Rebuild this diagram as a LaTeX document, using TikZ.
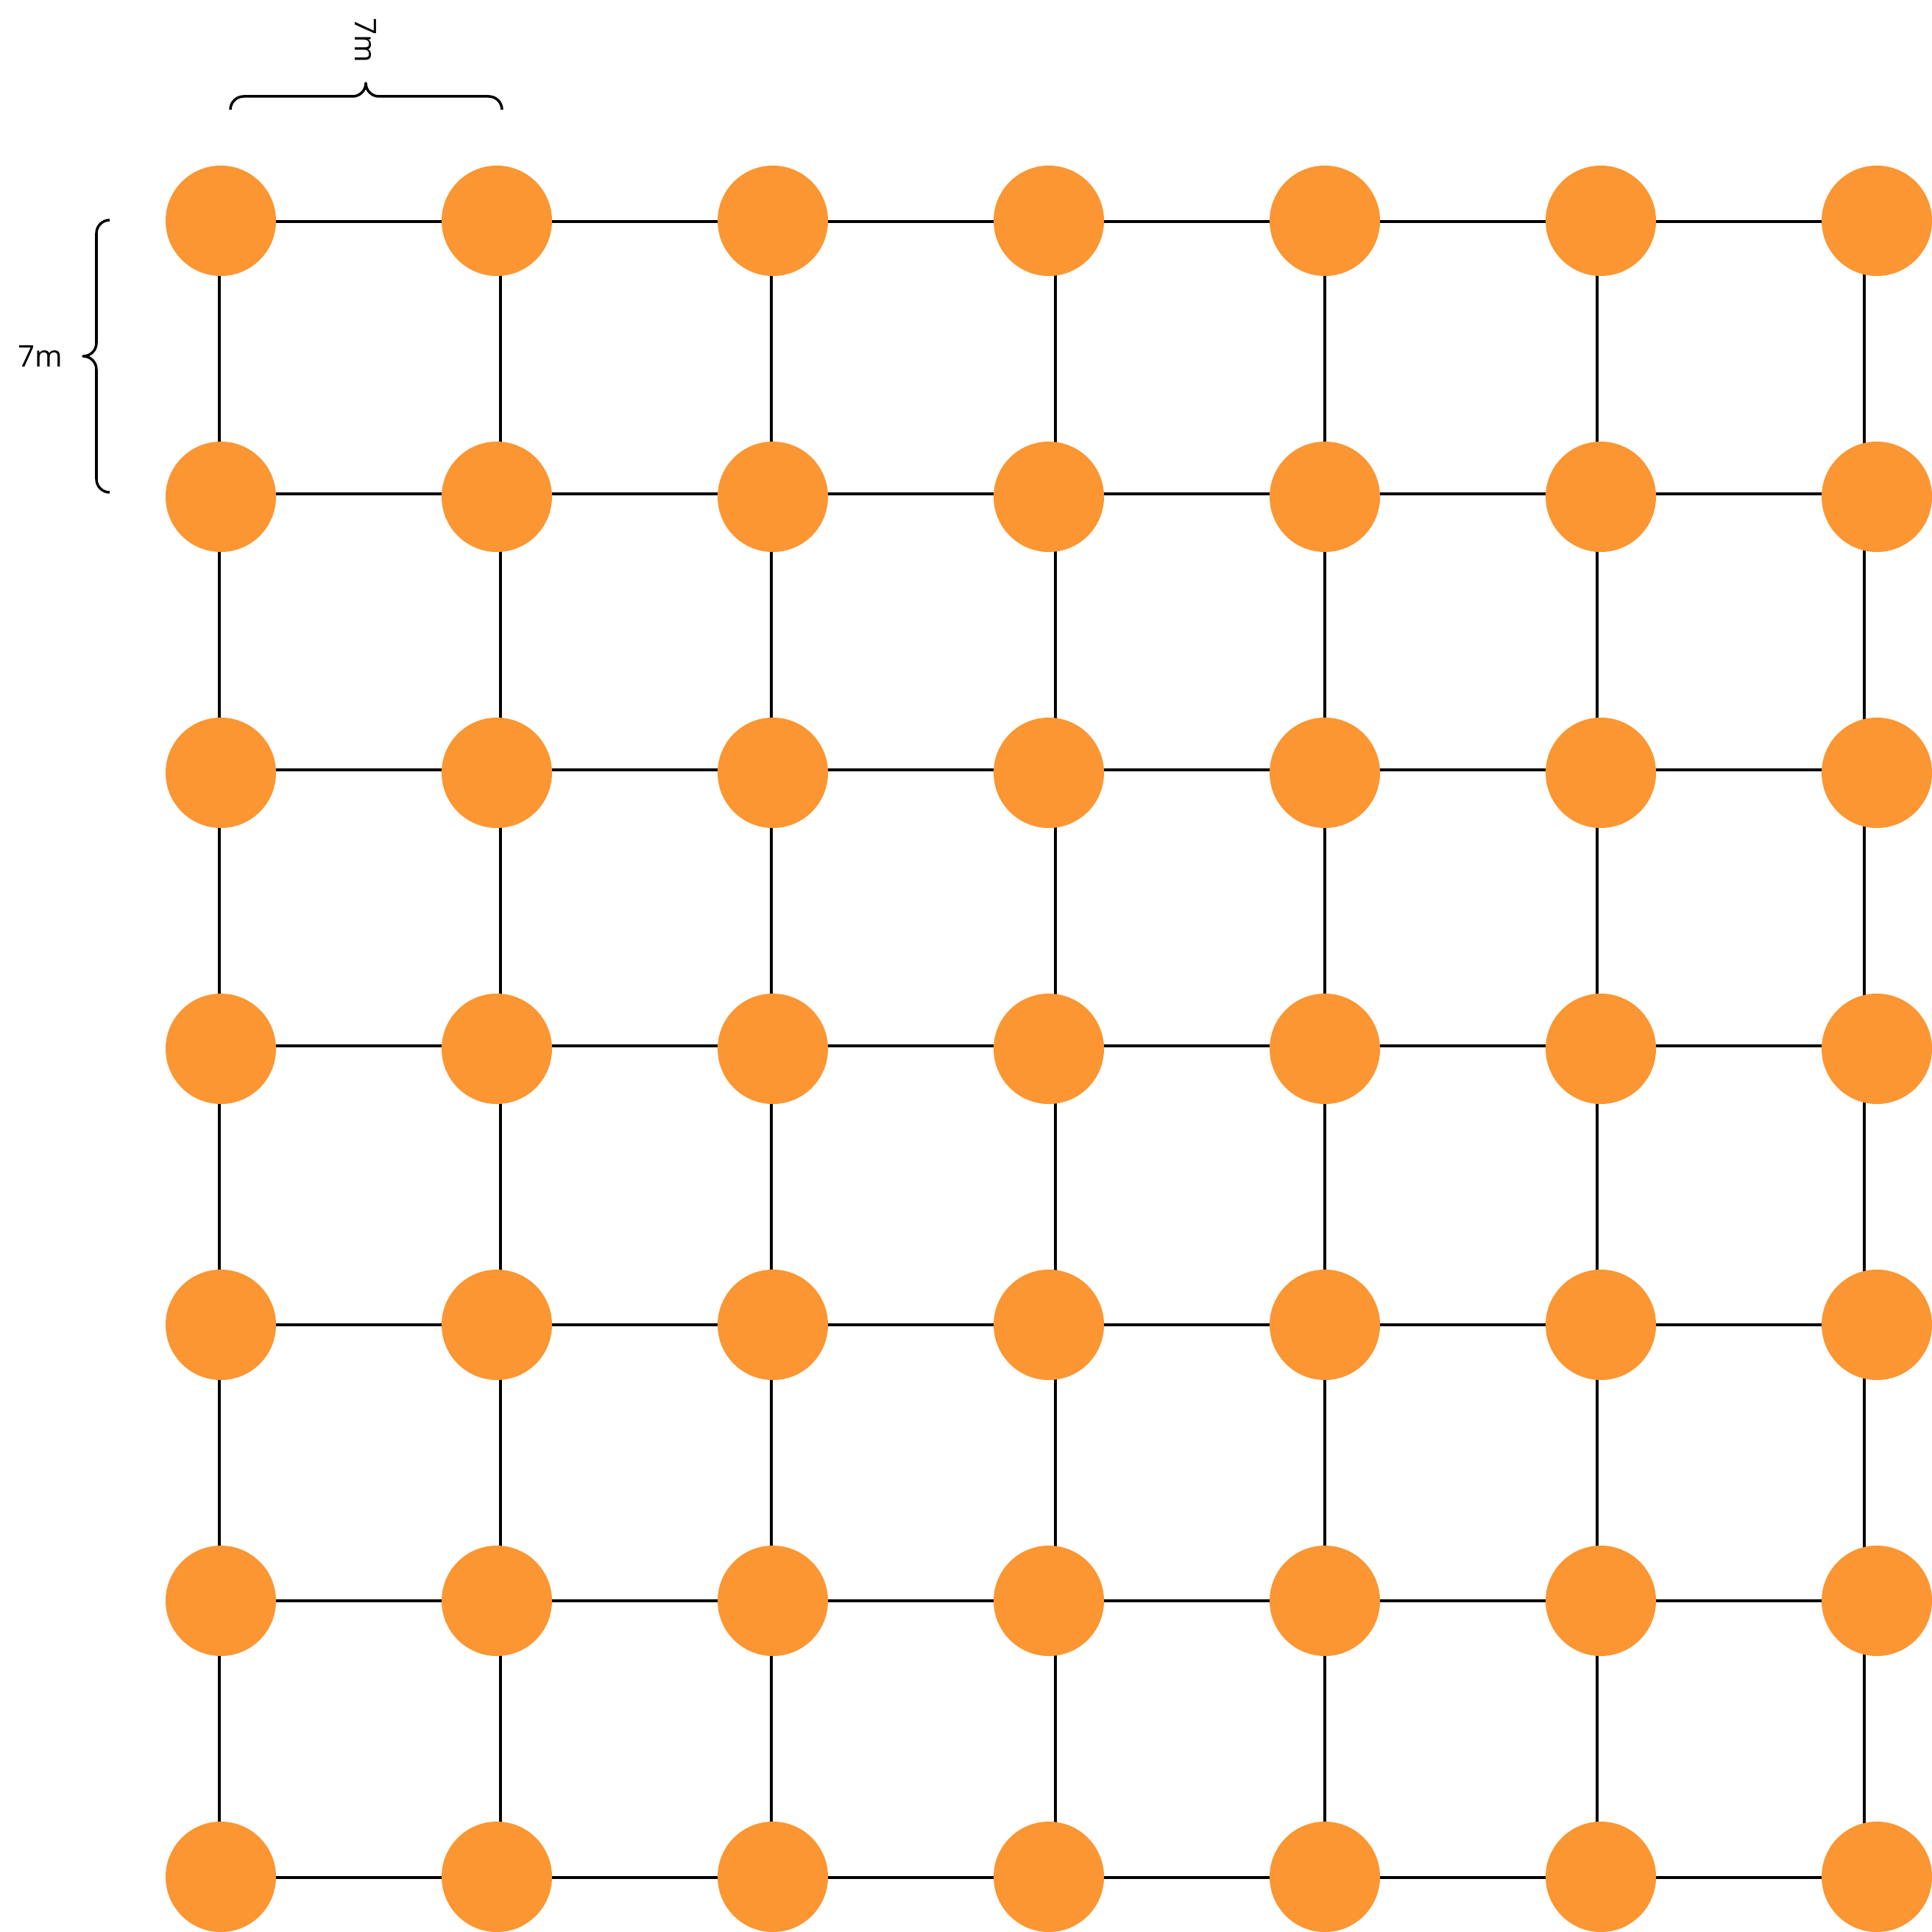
\documentclass[tikz,border=0pt]{standalone}
\usepackage{fontspec}
\setmainfont{Open Sans}
\usepackage{tikz}
\usepackage{xcolor}
\usetikzlibrary{positioning,backgrounds}
\definecolor{postorange}{RGB}{251,150,51}

\begin{document}
\begin{tikzpicture}[
          x=1cm, y=1cm,
          post/.style={circle, fill=postorange, inner sep=0pt, minimum size=1.5cm},
          link/.style={line width=1pt},
          brc/.style={line width=1pt, line join=round},
          lbl/.style={font=\fontsize{11.5}{13}\selectfont, inner sep=0pt}
      ]
        \useasboundingbox (0,0) rectangle (26.25,-26.25);
        \foreach \i in {0,...,6}
          \foreach \j in {0,...,6}
            \node[post] (p\i\j) at ({3+3.75*\i},{-3-3.75*\j}) {};
        \begin{scope}[on background layer]
          \foreach \j/\dy in {0/-0.01,1/0.04,2/0.04,3/0.04,4/0,5/0,6/-0.01}
            \foreach \i [count=\k] in {0,...,5}
              \draw[link] ([yshift=\dy cm]p\i\j.center) -- ([yshift=\dy cm]p\k\j.center);
          \foreach \i/\dx in {0/-0.02,1/0.05,2/-0.02,3/0.09,4/0,5/-0.05,6/-0.17}
            \foreach \j [count=\k] in {0,...,5}
              \draw[link] ([xshift=\dx cm]p\i\j.center) -- ([xshift=\dx cm]p\i\k.center);
        \end{scope}
        \coordinate (ltop) at (1.49,-2.99);
        \coordinate (tleft) at (3.13,-1.49);
        \draw[brc] (ltop) arc[start angle=90, end angle=180, radius=0.18] -- ++(0,-1.49)
          arc[start angle=0, end angle=-90, radius=0.18]
          arc[start angle=90, end angle=0, radius=0.18] -- ++(0,-1.49)
          arc[start angle=180, end angle=270, radius=0.18];
        \draw[brc] (tleft) arc[start angle=180, end angle=90, radius=0.18] -- ++(1.48,0)
          arc[start angle=270, end angle=360, radius=0.18]
          arc[start angle=180, end angle=270, radius=0.18] -- ++(1.49,0)
          arc[start angle=90, end angle=0, radius=0.18];
        \node[lbl] (leftspan) at (0.55,-4.84) {7m};
        \node[lbl, rotate=-90] (topspan) at (4.97,-0.55) {7m};
      \end{tikzpicture}
\end{document}
